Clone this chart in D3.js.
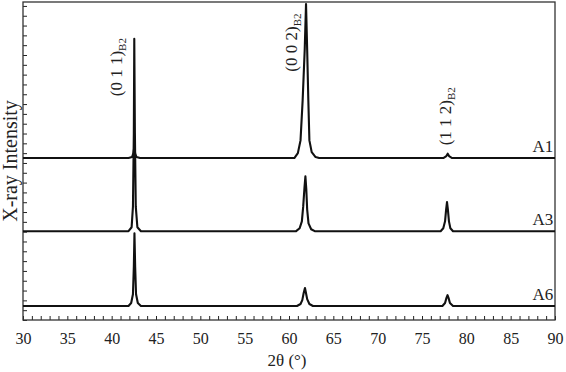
<!DOCTYPE html>
<html>
<head>
<meta charset="utf-8">
<script src="https://cdn.jsdelivr.net/npm/d3@7"></script>
<style>
  body { margin: 0; background: #fff; }
  svg { display: block; font-family: "Liberation Serif", "Times New Roman", serif; }
  .axis path { display: none; }
  .axis line { stroke: #222; stroke-width: 1; }
  .axis text { font-family: "Liberation Serif", serif; font-size: 16px; fill: #222; }
</style>
</head>
<body>
<script>
// 2theta range and tick values
const xDomain = [30, 90];
const xTicks = d3.range(30, 91, 1);
const yTicks = d3.range(0, 33, 1);

// vertical offset (stack position) of each pattern
const samples = ['A1', 'A3', 'A6'];
const offsets = [16.5, 9.05, 1.43];

// [2theta, intensity above own baseline]
const a1 = [[30, 0], [41.9, 0], [42.3, 0.1], [42.45, 0.5], [42.55, 1.1], [42.65, 0.45], [42.8, 0.1], [43.2, 0],
  [60.6, 0], [61.0, 0.5], [61.3, 1.8], [61.54, 5.9], [61.77, 11], [61.92, 15.7], [62.05, 11], [62.18, 5.9],
  [62.3, 1.8], [62.56, 0.6], [63.0, 0.1], [63.4, 0],
  [77.4, 0], [77.75, 0.2], [77.9, 0.45], [78.05, 0.2], [78.4, 0], [90, 0]];

const a3 = [[30, 0], [41.9, 0], [42.25, 0.4], [42.4, 2.5], [42.5, 10], [42.55, 19.6], [42.62, 10], [42.72, 2.5],
  [42.9, 0.4], [43.3, 0],
  [60.8, 0], [61.2, 0.3], [61.45, 1.0], [61.6, 2.5], [61.75, 4.5], [61.85, 5.6], [61.95, 4.3], [62.05, 2.2],
  [62.2, 0.8], [62.5, 0.2], [62.9, 0],
  [77.1, 0], [77.4, 0.3], [77.6, 1.0], [77.72, 2.2], [77.82, 2.97], [77.92, 2.2], [78.04, 1.0], [78.2, 0.3],
  [78.5, 0], [90, 0]];

const a6 = [[30, 0], [41.9, 0], [42.2, 0.3], [42.4, 1.2], [42.5, 4], [42.57, 7.4], [42.65, 4], [42.75, 1.2],
  [42.95, 0.3], [43.3, 0],
  [60.9, 0], [61.3, 0.2], [61.5, 0.6], [61.65, 1.3], [61.8, 1.83], [61.92, 1.3], [62.05, 0.7], [62.3, 0.2],
  [62.7, 0],
  [77.3, 0], [77.6, 0.3], [77.75, 0.8], [77.88, 1.1], [78.0, 0.8], [78.15, 0.3], [78.5, 0], [90, 0]];

const patterns = [a1, a3, a6];

// reflection labels: miller index, where the rotated text starts
const peakNames = ['(0 1 1)', '(0 0 2)', '(1 1 2)'];
const peakPos = [41.2, 60.9, 78.3];
const peakLabelBottom = [22.8, 25.3, 17.8];

const width = 566, height = 372;
const margin = { top: 2, right: 11, bottom: 52, left: 23 };

const svg = d3.select('body').append('svg')
  .attr('width', width)
  .attr('height', height);

const x = d3.scaleLinear().domain(xDomain).range([margin.left, width - margin.right]);
const y = d3.scaleLinear().domain([0, 32.4]).range([height - margin.bottom, margin.top]);

// axes, ticks pointing inward
svg.append('g')
  .attr('class', 'x axis')
  .attr('transform', 'translate(0,' + (height - margin.bottom) + ')')
  .call(d3.axisBottom(x).tickValues(xTicks).tickSize(-4).tickPadding(13)
    .tickFormat(d => d % 5 === 0 ? d : ''));

svg.append('g')
  .attr('class', 'y axis')
  .attr('transform', 'translate(' + margin.left + ',0)')
  .call(d3.axisLeft(y).tickValues(yTicks).tickSize(-4).tickFormat(''));

// frame
svg.append('rect')
  .attr('x', margin.left)
  .attr('y', margin.top)
  .attr('width', width - margin.left - margin.right)
  .attr('height', height - margin.top - margin.bottom)
  .attr('fill', 'none')
  .attr('stroke', '#333')
  .attr('stroke-width', 1.3);

// patterns
const line = d3.line();
patterns.forEach((pts, i) => {
  svg.append('path')
    .datum(pts)
    .attr('fill', 'none')
    .attr('stroke', '#111')
    .attr('stroke-width', 2.1)
    .attr('stroke-linejoin', 'round')
    .attr('d', line.x(d => x(d[0])).y(d => y(d[1] + offsets[i])));

  svg.append('text')
    .attr('x', x(89.8))
    .attr('y', y(offsets[i]) - 6)
    .attr('text-anchor', 'end')
    .attr('font-size', 17)
    .attr('fill', '#222')
    .text(samples[i]);
});

// reflection labels (rotated)
peakNames.forEach((name, i) => {
  const t = svg.append('text')
    .attr('transform', 'translate(' + x(peakPos[i]) + ',' + y(peakLabelBottom[i]) + ') rotate(-90)')
    .attr('font-size', 17)
    .attr('fill', '#222');
  t.append('tspan').text(name);
  t.append('tspan').attr('font-size', 11).attr('dy', 4).text('B2');
});

// axis titles
svg.append('text')
  .attr('x', (x(30) + x(90)) / 2 - 2)
  .attr('y', 366)
  .attr('text-anchor', 'middle')
  .attr('font-size', 17)
  .attr('fill', '#222')
  .text('2θ (°)');

svg.append('text')
  .attr('transform', 'translate(17,' + 161 + ') rotate(-90)')
  .attr('text-anchor', 'middle')
  .attr('font-size', 20)
  .attr('fill', '#222')
  .text('X-ray Intensity');
</script>
</body>
</html>
